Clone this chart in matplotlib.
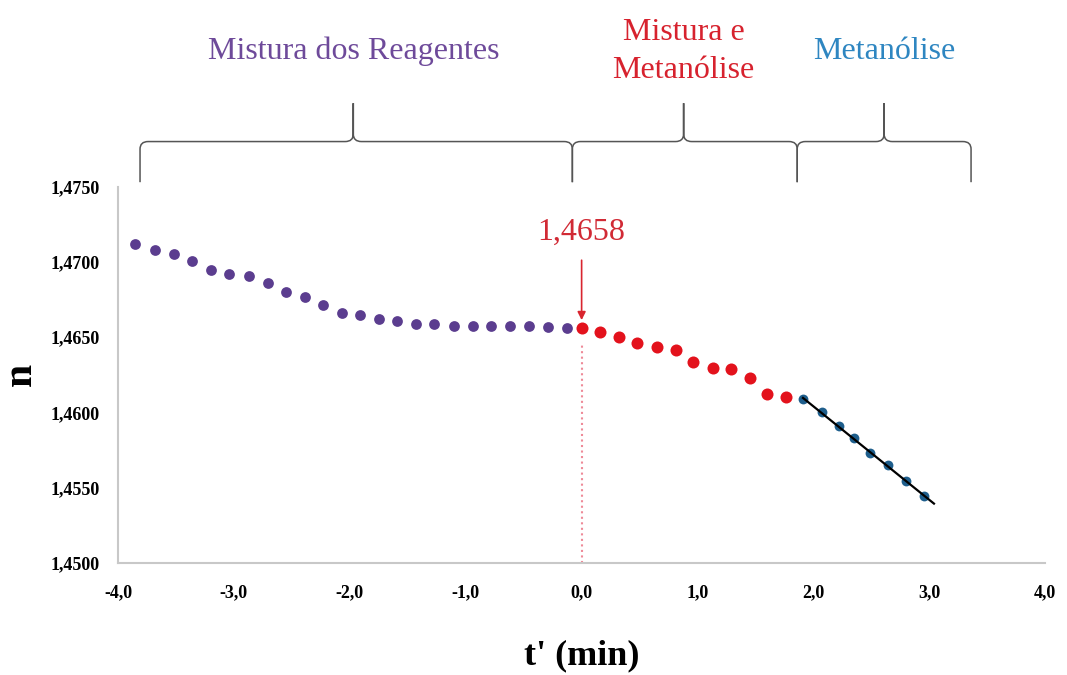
import numpy as np
import matplotlib.pyplot as plt
from matplotlib.path import Path
from matplotlib.patches import PathPatch
from matplotlib.ticker import FuncFormatter

# tempo relativo (min) e indice de refracao
t_mistura = [-3.85, -3.68, -3.52, -3.36, -3.20, -3.04, -2.87, -2.71, -2.55, -2.39,
             -2.23, -2.07, -1.91, -1.75, -1.59, -1.43, -1.27, -1.10, -0.94, -0.78,
             -0.62, -0.45, -0.29, -0.13]
n_mistura = [1.47118, 1.47080, 1.47053, 1.47009, 1.46947, 1.46920, 1.46909, 1.46863,
             1.46799, 1.46766, 1.46715, 1.46660, 1.46648, 1.46620, 1.46608, 1.46587,
             1.46587, 1.46577, 1.46577, 1.46577, 1.46577, 1.46577, 1.46571, 1.46560]

t_mist_met = [0.00, 0.16, 0.32, 0.48, 0.65, 0.81, 0.96, 1.13, 1.29, 1.45, 1.60, 1.76]
n_mist_met = [1.46560, 1.46537, 1.46504, 1.46460, 1.46438, 1.46416, 1.46332, 1.46294,
              1.46288, 1.46232, 1.46124, 1.46102]

t_metanolise = [1.91, 2.07, 2.22, 2.35, 2.49, 2.64, 2.80, 2.95]
n_metanolise = [1.46089, 1.46000, 1.45907, 1.45830, 1.45730, 1.45648, 1.45542, 1.45447]
t_trend_end = 3.04

# fases (inicio, pico, fim) e rotulos
fases = [(-3.81, -1.97, -0.08), (-0.08, 0.88, 1.86), (1.86, 2.61, 3.36)]
rotulos = ['Mistura dos Reagentes', 'Mistura e\nMetanólise', 'Metanólise']
cores_rotulo = ['#6E4A9A', '#D7222E', '#2E86C1']
n_inicio = 1.4658

roxo = '#5B3D8F'
vermelho = '#E3121C'
azul = '#1E5E8C'
serif = ['Liberation Serif', 'DejaVu Serif']

fig = plt.figure(figsize=(10.67, 6.75), dpi=100)
ax = fig.add_axes([0.1106, 0.166, 0.869, 0.5574])

ax.scatter(t_mistura, n_mistura, s=60, color=roxo, zorder=3, linewidths=0)
ax.scatter(t_mist_met, n_mist_met, s=75, color=vermelho, zorder=3, linewidths=0)
ax.scatter(t_metanolise, n_metanolise, s=50, color=azul, zorder=3, linewidths=0)

coef = np.polyfit(t_metanolise, n_metanolise, 1)
tt = np.array([t_metanolise[0], t_trend_end])
ax.plot(tt, np.polyval(coef, tt), color='black', lw=1.6, zorder=4)

ax.set_xlim(-4, 4)
ax.set_ylim(1.45, 1.475)
ax.set_xticks(np.arange(-4, 4.1, 1))
ax.set_yticks(np.arange(1.45, 1.4751, 0.005))
ax.xaxis.set_major_formatter(FuncFormatter(lambda v, p: f'{v:.1f}'.replace('.', ',')))
ax.yaxis.set_major_formatter(FuncFormatter(lambda v, p: f'{v:.4f}'.replace('.', ',')))
for lab in ax.get_xticklabels() + ax.get_yticklabels():
    lab.set_fontfamily(serif)
    lab.set_fontweight('bold')
    lab.set_fontsize(13)
ax.tick_params(axis='x', length=0, pad=15)
ax.tick_params(axis='y', length=0, pad=13)
for s in ['top', 'right']:
    ax.spines[s].set_visible(False)
for s in ['left', 'bottom']:
    ax.spines[s].set_color('#C8C8C8')
    ax.spines[s].set_linewidth(1.5)

ax.set_xlabel("t' (min)", fontfamily=serif, fontweight='bold', fontsize=26, labelpad=28)
ax.set_ylabel('n', fontfamily=serif, fontweight='bold', fontsize=30, labelpad=8)

# linha vertical e seta no inicio da metanolise
ax.plot([0, 0], [1.45, 1.4645], color='#EE8A98', lw=1.5, ls=':', zorder=2)
ax.annotate('', xy=(0, n_inicio + 0.00015), xytext=(0, 1.4703),
            arrowprops=dict(arrowstyle='-|>', color='#D9252F', lw=1.2, mutation_scale=12))
ax.text(0, 1.4720, f'{n_inicio:.4f}'.replace('.', ','), color='#D12A35',
        fontfamily=serif, fontsize=23, ha='center', va='center')

# chaves sobre o grafico
y_bot, y_h, y_top = 1.4753, 1.4780, 1.48055
rx, ry = 0.07, 0.0005
for (x0, xm, x1), rot, cor in zip(fases, rotulos, cores_rotulo):
    verts = [(x0, y_bot), (x0, y_h - ry), (x0, y_h), (x0 + rx, y_h),
             (xm - rx, y_h), (xm, y_h), (xm, y_h + ry), (xm, y_top),
             (xm, y_h + ry), (xm, y_h), (xm + rx, y_h),
             (x1 - rx, y_h), (x1, y_h), (x1, y_h - ry), (x1, y_bot)]
    codes = [Path.MOVETO, Path.LINETO, Path.CURVE3, Path.CURVE3,
             Path.LINETO, Path.CURVE3, Path.CURVE3, Path.LINETO,
             Path.LINETO, Path.CURVE3, Path.CURVE3,
             Path.LINETO, Path.CURVE3, Path.CURVE3, Path.LINETO]
    ax.add_patch(PathPatch(Path(verts, codes), fill=False, edgecolor='#555555',
                           lw=1.1, clip_on=False))
    ax.text(xm, 1.4840, rot, color=cor, fontfamily=serif, fontsize=23,
            ha='center', va='center', linespacing=1.4)

fig.savefig('out.png', dpi=100, facecolor='white')
